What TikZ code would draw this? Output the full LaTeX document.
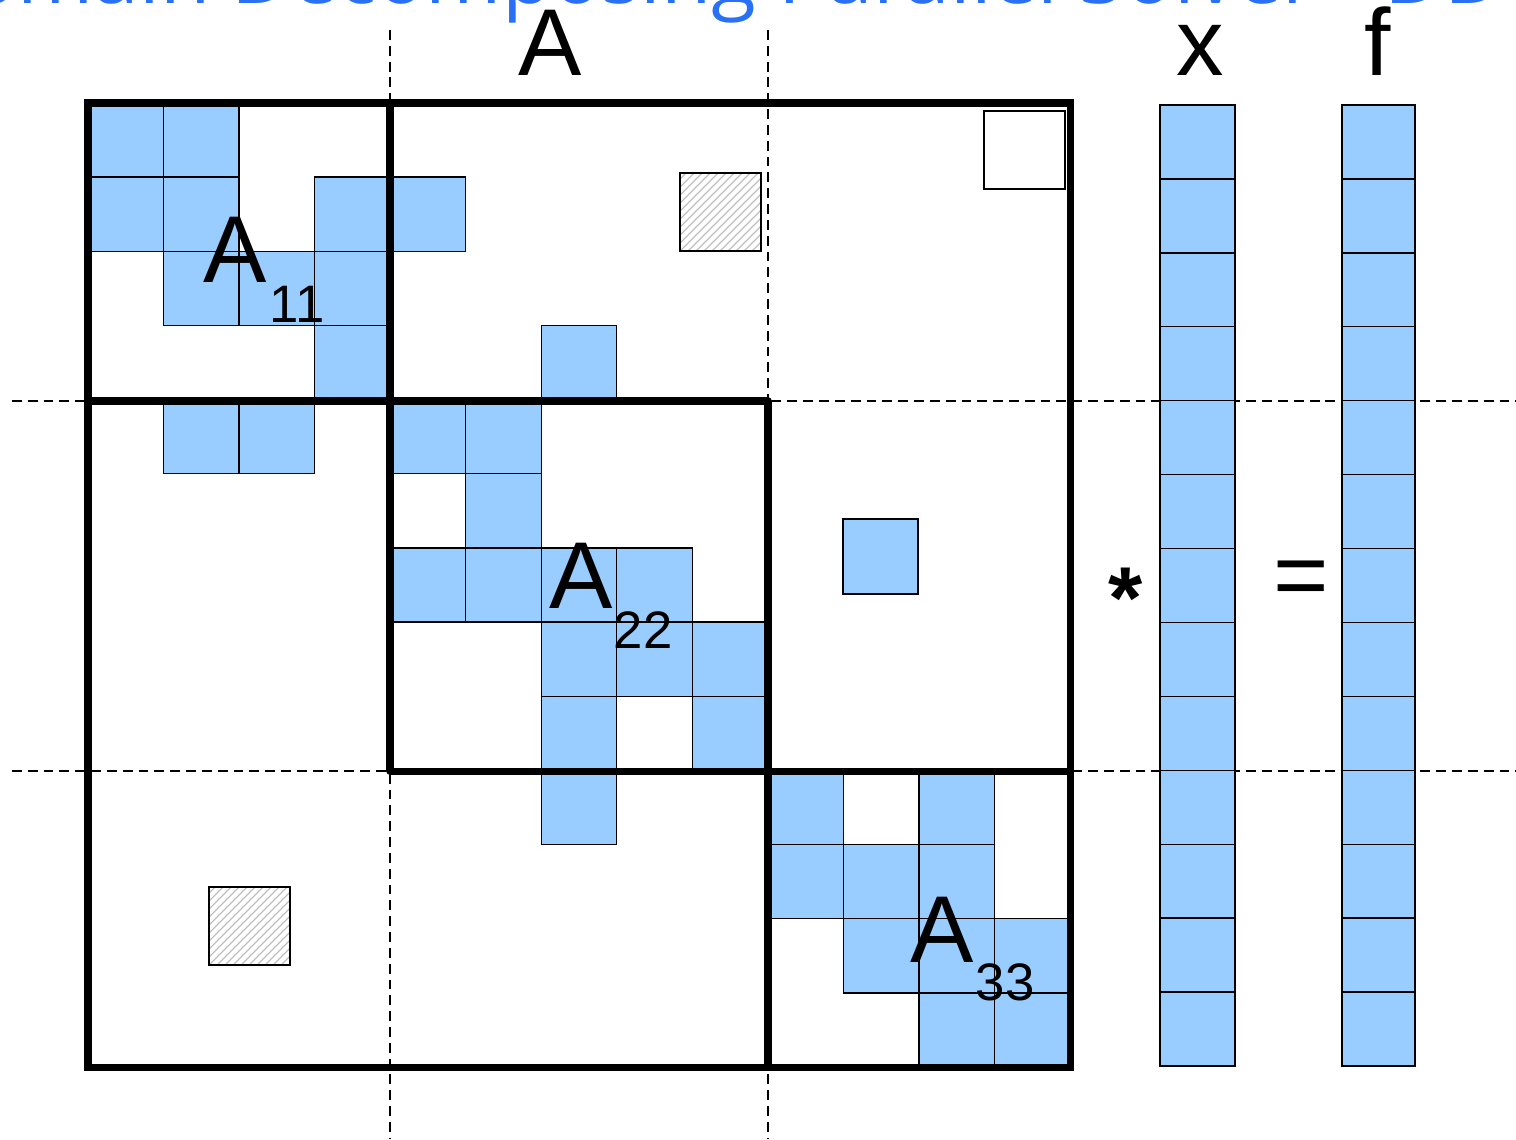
\documentclass[tikz,border=0pt]{standalone}
\usepackage{fontspec}
\setmainfont{Liberation Sans}
\newfontfamily\titlefont{Open Sans}
\definecolor{cellblue}{RGB}{153,204,255}
\definecolor{titleblue}{RGB}{42,112,245}
\tikzset{
  cell/.style={fill=cellblue,draw=black,line width=0.4pt},
  blockline/.style={line width=2pt,line cap=round},
  guide/.style={line width=0.35pt,dash pattern=on 2.8pt off 1.7pt},
  big/.style={inner sep=0pt,font=\fontsize{27}{30}\selectfont},
  sub/.style={inner sep=0pt,font=\fontsize{15}{17}\selectfont},
}
\begin{document}
\begin{tikzpicture}[x=0.01cm,y=-0.01cm]
\useasboundingbox (0,0) rectangle (1516,1139);
\clip (0,0) rectangle (1516,1139);
\fill[white] (0,0) rectangle (1516,1139);
% title (clipped by the page edge, as in the reference)
\node[anchor=base west,inner sep=0pt,text=titleblue,font=\titlefont\fontsize{23.3}{26}\selectfont] (title) at (17,3) {\llap{Do}main Decomposing Parallel Solver - DD};
% guide lines
\draw[guide] (390,30) -- (390,1139);
\draw[guide] (768,30) -- (768,1139);
\draw[guide] (12,401) -- (1516,401);
\draw[guide] (12,771) -- (1516,771);
% blue cells
\foreach \r/\cs in {0/{0,1},1/{0,1,3,4},2/{1,2,3},3/{3,6},4/{1,2,4,5},5/{5},6/{4,5,6,7},7/{6,7,8},8/{6,8},9/{6,9,11},10/{9,10,11},11/{10,11,12},12/{11,12}}{
  \foreach \c in \cs {
    \draw[cell] ({88+\c*75.54},{103+\r*74.15}) rectangle ++(75.54,74.15);
  }
}
\draw[cell] (843,519) rectangle (918,594);
% hatched squares
\foreach \xa/\ya in {680/173,209/887}{
  \begin{scope}
    \clip (\xa,\ya) rectangle ++(81,78);
    \foreach \k in {-80,-72,...,80}{
      \draw[gray!55,line width=0.3pt] ({\xa+\k},{\ya+78}) -- ++(80,-80);
    }
  \end{scope}
  \draw[line width=0.4pt] (\xa,\ya) rectangle ++(81,78);
}
\draw[line width=0.4pt] (984,111) rectangle (1065,189);
% block lines
\draw[blockline] (88,103) rectangle (1070,1067);
\draw[blockline] (88,401) -- (768,401);
\draw[blockline] (390,103) -- (390,771);
\draw[blockline] (390,771) -- (1070,771);
\draw[blockline] (768,401) -- (768,1067);
% vectors
\foreach \i in {0,...,12}{
  \draw[cell] (1160,{105+\i*73.92}) rectangle ++(75,73.92);
  \draw[cell] (1342,{105+\i*73.92}) rectangle ++(73,73.92);
}
% labels
\node[big,anchor=base] (lA) at (550,75) {A};
\node[big,anchor=base] (lx) at (1200,75) {x};
\node[big,anchor=base] (lf) at (1378,75) {f};
\node[big,anchor=base west] (a11) at (203,282) {A};
\node[sub,anchor=base west] (s11) at (269,322) {11};
\node[big,anchor=base west] (a22) at (549,608) {A};
\node[sub,anchor=base west] (s22) at (613,648) {22};
\node[big,anchor=base west] (a33) at (910,962) {A};
\node[sub,anchor=base west] (s33) at (975,1000) {33};
\node[big,anchor=base,font=\bfseries\fontsize{25}{28}\selectfont] (star) at (1126,628) {*};
\node[big,anchor=base] (eq) at (1301,607) {=};
\end{tikzpicture}
\end{document}
